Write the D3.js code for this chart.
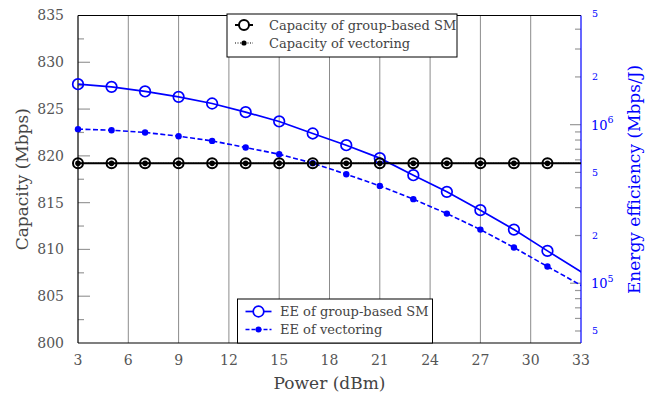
<!DOCTYPE html>
<html>
<head>
<meta charset="utf-8">
<script src="https://cdn.jsdelivr.net/npm/d3@7"></script>
<style>
  body { margin: 0; background: #fff; }
  svg text { font-family: "DejaVu Serif", serif; }
</style>
</head>
<body>
<svg id="chart" width="648" height="394"></svg>
<script>
// power levels (dBm) for each sample
const power = [3, 5, 7, 9, 11, 13, 15, 17, 19, 21, 23, 25, 27, 29, 31, 33, 35];
// last two samples lie on/after the right edge, no markers drawn there
const markerCount = 15;

const capGroupSM = [819.2, 819.2, 819.2, 819.2, 819.2, 819.2, 819.2, 819.2, 819.2, 819.2, 819.2, 819.2, 819.2, 819.2, 819.2, 819.2, 819.2];
const capVectoring = [819.2, 819.2, 819.2, 819.2, 819.2, 819.2, 819.2, 819.2, 819.2, 819.2, 819.2, 819.2, 819.2, 819.2, 819.2, 819.2, 819.2];

const eeGroupSM = [1.80e6, 1.732e6, 1.62e6, 1.498e6, 1.36e6, 1.199e6, 1.048e6, 8.80e5, 7.42e5, 6.15e5, 4.80e5, 3.77e5, 2.89e5, 2.18e5, 1.60e5, 1.18e5, 8.5e4];
const eeVectoring = [9.37e5, 9.23e5, 8.93e5, 8.46e5, 7.90e5, 7.18e5, 6.51e5, 5.72e5, 4.87e5, 4.11e5, 3.39e5, 2.75e5, 2.18e5, 1.68e5, 1.275e5, 9.71e4, 7.4e4];

const xTicks = [3, 6, 9, 12, 15, 18, 21, 24, 27, 30, 33];
const yTicks = [800, 805, 810, 815, 820, 825, 830, 835];

const blue = '#0000ff';

const svg = d3.select('#chart');
const margin = {top: 15.5, right: 67, bottom: 51, left: 78};
const width = 648 - margin.left - margin.right;
const height = 394 - margin.top - margin.bottom;

const chart = svg.append('g')
    .attr('transform', `translate(${margin.left},${margin.top})`);

const xScale = d3.scaleLinear().domain([3, 33]).range([0, width]);
const yScale = d3.scaleLinear().domain([800, 835]).range([height, 0]);
const yScaleEE = d3.scaleLog().domain([4.2e4, 4.88e6]).range([height, 0]);

chart.append('clipPath').attr('id', 'plot-clip')
    .append('rect').attr('width', width).attr('height', height);

// vertical grid lines
chart.selectAll('.grid')
    .data(xTicks.slice(1, -1))
    .join('line')
    .attr('class', 'grid')
    .attr('x1', d => xScale(d)).attr('x2', d => xScale(d))
    .attr('y1', 0).attr('y2', height)
    .attr('stroke', '#8c8c8c').attr('stroke-width', 1);

// left axis ticks (inward)
const leftMinor = d3.range(802.5, 835, 5);
chart.selectAll('.ltick')
    .data(yTicks.slice(1, -1))
    .join('line')
    .attr('x1', 0).attr('x2', 12)
    .attr('y1', d => yScale(d)).attr('y2', d => yScale(d))
    .attr('stroke', '#999').attr('stroke-width', 1.2);
chart.selectAll('.lminor')
    .data(leftMinor)
    .join('line')
    .attr('x1', 0).attr('x2', 6)
    .attr('y1', d => yScale(d)).attr('y2', d => yScale(d))
    .attr('stroke', '#999').attr('stroke-width', 1.2);

// left tick labels
chart.selectAll('.ylab')
    .data(yTicks)
    .join('text')
    .attr('x', -14)
    .attr('y', d => yScale(d))
    .attr('dy', '0.35em')
    .attr('text-anchor', 'end')
    .attr('font-size', 14)
    .attr('fill', '#555')
    .text(d => d);

// x tick labels
chart.selectAll('.xlab')
    .data(xTicks)
    .join('text')
    .attr('x', d => xScale(d))
    .attr('y', height + 17)
    .attr('dy', '0.35em')
    .attr('text-anchor', 'middle')
    .attr('font-size', 14)
    .attr('fill', '#555')
    .text(d => d);

// right log axis ticks (inward)
const decades = [1e4, 1e5, 1e6];
const rightMinor = [];
decades.forEach(dec => d3.range(2, 10).forEach(m => {
    const v = m * dec;
    if (v >= yScaleEE.domain()[0] && v <= yScaleEE.domain()[1]) rightMinor.push(v);
}));
chart.selectAll('.rminor')
    .data(rightMinor)
    .join('line')
    .attr('x1', width - 6).attr('x2', width)
    .attr('y1', d => yScaleEE(d)).attr('y2', d => yScaleEE(d))
    .attr('stroke', '#999').attr('stroke-width', 1.2);
chart.selectAll('.rmajor')
    .data([1e5, 1e6])
    .join('line')
    .attr('x1', width - 11).attr('x2', width)
    .attr('y1', d => yScaleEE(d)).attr('y2', d => yScaleEE(d))
    .attr('stroke', '#999').attr('stroke-width', 1.2);

// right tick labels
const rightSmallLabels = [5e4, 2e5, 5e5, 2e6, 5e6];
chart.selectAll('.rlab')
    .data(rightSmallLabels)
    .join('text')
    .attr('x', width + 11)
    .attr('y', d => yScaleEE(d))
    .attr('dy', '0.35em')
    .attr('font-size', 9.5)
    .attr('fill', blue)
    .text(d => String(d).charAt(0));
const rmaj = chart.selectAll('.rmaj')
    .data([5, 6])
    .join('text')
    .attr('x', width + 10)
    .attr('y', d => yScaleEE(Math.pow(10, d)))
    .attr('dy', '0.4em')
    .attr('font-size', 13)
    .attr('fill', blue);
rmaj.append('tspan').text('10');
rmaj.append('tspan').attr('font-size', 9.5).attr('dy', '-0.7em').text(d => d);

// axis frame
chart.append('line').attr('x1', 0).attr('x2', width).attr('y1', 0).attr('y2', 0)
    .attr('stroke', '#000').attr('stroke-width', 1.2);
chart.append('line').attr('x1', 0).attr('x2', width).attr('y1', height).attr('y2', height)
    .attr('stroke', '#000').attr('stroke-width', 1.2);
chart.append('line').attr('x1', 0).attr('x2', 0).attr('y1', 0).attr('y2', height)
    .attr('stroke', '#000').attr('stroke-width', 1.2);
chart.append('line').attr('x1', width).attr('x2', width).attr('y1', 0).attr('y2', height)
    .attr('stroke', blue).attr('stroke-width', 1.2);

// series
const idx = d3.range(power.length);
const plot = chart.append('g').attr('clip-path', 'url(#plot-clip)');
const marks = chart.append('g');

function drawSeries(values, scale, opts) {
    const line = d3.line()
        .x(i => xScale(power[i]))
        .y(i => scale(values[i]));
    plot.append('path')
        .datum(idx)
        .attr('d', line)
        .attr('fill', 'none')
        .attr('stroke', opts.color)
        .attr('stroke-width', opts.width)
        .attr('stroke-dasharray', opts.dash || null);
    marks.append('g').selectAll('circle')
        .data(idx.slice(0, markerCount))
        .join('circle')
        .attr('cx', i => xScale(power[i]))
        .attr('cy', i => scale(values[i]))
        .attr('r', opts.r)
        .attr('fill', opts.filled ? opts.color : 'none')
        .attr('stroke', opts.color)
        .attr('stroke-width', opts.filled ? 0 : opts.width);
}

drawSeries(eeVectoring, yScaleEE, {color: blue, width: 1.6, dash: '5,2.5', r: 3.2, filled: true});
drawSeries(eeGroupSM, yScaleEE, {color: blue, width: 1.7, r: 5.3, filled: false});
drawSeries(capGroupSM, yScale, {color: '#000', width: 2, r: 5, filled: false});
drawSeries(capVectoring, yScale, {color: '#000', width: 1.2, dash: '1,1.5', r: 2.8, filled: true});

// legends
function legend(x, y, w, h, items) {
    const g = chart.append('g').attr('transform', `translate(${x},${y})`);
    g.append('rect').attr('width', w).attr('height', h)
        .attr('fill', '#fff').attr('stroke', '#000').attr('stroke-width', 1);
    items.forEach(it => {
        const cy = it.y;
        g.append('line').attr('x1', it.x0).attr('x2', it.x1)
            .attr('y1', cy).attr('y2', cy)
            .attr('stroke', it.color).attr('stroke-width', it.width)
            .attr('stroke-dasharray', it.dash || null);
        g.append('circle').attr('cx', (it.x0 + it.x1) / 2).attr('cy', cy)
            .attr('r', it.r)
            .attr('fill', it.filled ? it.color : '#fff')
            .attr('stroke', it.color).attr('stroke-width', it.filled ? 0 : it.width);
        g.append('text').attr('x', it.tx).attr('y', cy).attr('dy', '0.35em')
            .attr('font-size', 13).attr('fill', '#444').text(it.label);
    });
}

legend(149, -1.5, 230, 43, [
    {label: 'Capacity of group-based SM', color: '#000', width: 2, r: 5, filled: false, x0: 8, x1: 26, tx: 42, y: 11},
    {label: 'Capacity of vectoring', color: '#000', width: 1.2, dash: '1,1.5', r: 2.6, filled: true, x0: 8, x1: 26, tx: 42, y: 29}
]);
legend(159.5, 283.5, 195, 44, [
    {label: 'EE of group-based SM', color: blue, width: 1.7, r: 5.3, filled: false, x0: 8, x1: 34, tx: 42.5, y: 12.5},
    {label: 'EE of vectoring', color: blue, width: 1.6, dash: '4,2', r: 3, filled: true, x0: 8, x1: 34, tx: 42.5, y: 30.5}
]);

// axis titles
svg.append('text')
    .attr('x', margin.left + width / 2)
    .attr('y', 383)
    .attr('dy', '0.35em')
    .attr('text-anchor', 'middle')
    .attr('font-size', 17)
    .attr('fill', '#444')
    .text('Power (dBm)');
svg.append('text')
    .attr('transform', `translate(22,${margin.top + height / 2}) rotate(-90)`)
    .attr('text-anchor', 'middle')
    .attr('dy', '0.35em')
    .attr('font-size', 17)
    .attr('fill', '#444')
    .text('Capacity (Mbps)');
svg.append('text')
    .attr('transform', `translate(634,${margin.top + 164}) rotate(-90)`)
    .attr('text-anchor', 'middle')
    .attr('dy', '0.35em')
    .attr('font-size', 17)
    .attr('fill', blue)
    .text('Energy efficiency (Mbps/J)');
</script>
</body>
</html>
